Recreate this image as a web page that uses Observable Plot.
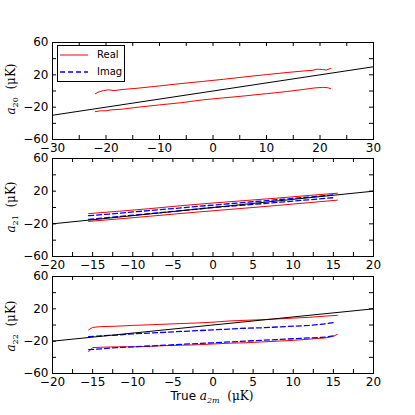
<!DOCTYPE html>
<html>
<head>
<meta charset="utf-8">
<script src="https://cdn.jsdelivr.net/npm/d3@7"></script>
<script src="https://cdn.jsdelivr.net/npm/@observablehq/plot@0.6"></script>
<style>
  body { margin: 0; background: #fff; }
  #chart { position: relative; width: 415px; height: 415px; font-family: "DejaVu Sans", sans-serif; color: #000; overflow: hidden; background: #fff; }
  #chart svg.plot { position: absolute; left: 0; }
  .ylab { position: absolute; white-space: nowrap; font-size: 12px; transform: translate(-50%, -50%) rotate(-90deg); line-height: 1; }
  .xlab { position: absolute; white-space: nowrap; font-size: 12px; transform: translate(-50%, -50%); line-height: 1; }
  .m { font-family: "DejaVu Serif", serif; font-style: italic; }
  .sub { font-family: "DejaVu Serif", serif; font-size: 8px; vertical-align: -3px; }
  .u { font-family: "DejaVu Serif", serif; }
  .legbox { position: absolute; border: 1px solid #000; background: #fff; box-sizing: border-box; }
  .legtxt { position: absolute; font-size: 10px; line-height: 1; transform: translateY(-50%); }
  .legsw { position: absolute; }
</style>
</head>
<body>
<div id="chart"></div>
<script>
// ---- ticks ----
const yTicks = [-60, -40, -20, 0, 20, 40, 60];
const yTickLabels = [-60, -20, 20, 60];
const x1Ticks = [-30, -25, -20, -15, -10, -5, 0, 5, 10, 15, 20, 25, 30];
const x1TickLabels = [-30, -20, -10, 0, 10, 20, 30];
const x23Ticks = [-20, -17.5, -15, -12.5, -10, -7.5, -5, -2.5, 0, 2.5, 5, 7.5, 10, 12.5, 15, 17.5, 20];
const x23TickLabels = [-20, -15, -10, -5, 0, 5, 10, 15, 20];

// ---- truth (y = x) lines ----
const truth1X = [-30, 30];
const truth1Y = [-30, 30];
const truth23X = [-20, 20];
const truth23Y = [-20, 20];

// ---- panel 1: a20 (real only) ----
const a20RealUpX = [-22, -21.5, -20.5, -19.5, -18.5, -17, -14, -10, -6, -2, 2, 6, 10, 14, 17, 18.5, 19.5, 20.5, 21.2, 22];
const a20RealUpY = [-3.5, -1.5, 0.5, 1.5, 0.5, 1.8, 3.5, 6.3, 9.2, 11.8, 14.5, 17.5, 20.3, 23, 24.8, 25.5, 27, 26.5, 26, 28];
const a20RealLoX = [-22, -21, -20, -19, -17, -14, -10, -6, -2, 2, 6, 10, 14, 17, 19, 20.5, 21.5, 22];
const a20RealLoY = [-25.5, -24.5, -24.5, -23.3, -22.5, -20, -17.2, -14.5, -11, -8.5, -6, -3.3, -0.5, 2, 3.8, 4.5, 4, 2.8];

// ---- panel 2: a21 ----
const a21RealUpX = [-15.5, -12, -8, -4, 0, 4, 8, 12, 15.5];
const a21RealUpY = [-7.5, -4.8, -1.5, 2.2, 5.5, 8.5, 11.5, 14.8, 17.5];
const a21RealLoX = [-15.5, -12, -8, -4, 0, 4, 8, 12, 15.5];
const a21RealLoY = [-17, -14.2, -10.8, -7.3, -4, -0.8, 2.5, 6, 9];
const a21ImagUpX = [-15.5, -12, -8, -4, 0, 4, 8, 12, 15];
const a21ImagUpY = [-10, -7.3, -3.8, -0.5, 3, 6.2, 9.5, 12.8, 15.5];
const a21ImagLoX = [-15.5, -12, -8, -4, 0, 4, 8, 12, 15];
const a21ImagLoY = [-14.5, -11.2, -7.5, -3.8, 0, 3, 6.2, 9.5, 12];

// ---- panel 3: a22 ----
const a22RealUpX = [-15.5, -15, -14, -12, -10, -8, -6, -4, -2, 0, 2, 4, 6, 8, 10, 12, 14, 15.5];
const a22RealUpY = [-6, -3, -2, -1.5, -0.5, 0.2, 1, 1.8, 2.5, 3.5, 5, 5.8, 6.5, 7.5, 8.5, 9.5, 11, 12];
const a22RealLoX = [-15.5, -15.2, -15, -14, -12, -10, -8, -6, -4, -2, 0, 2, 4, 6, 8, 10, 12, 14, 15, 15.5];
const a22RealLoY = [-33, -30, -28, -27.5, -27, -27, -26.5, -25.5, -25, -24.5, -23.5, -22.5, -22, -21, -20, -19, -17.5, -16, -14, -11.5];
const a22ImagUpX = [-15.5, -14, -12, -10, -8, -6, -4, -2, 0, 2, 4, 6, 8, 10, 12, 14, 15];
const a22ImagUpY = [-14.5, -13.5, -12.5, -11, -10, -9, -8, -7, -6, -5, -4, -3.5, -2.5, -1.5, -0.5, 1.5, 3];
const a22ImagLoX = [-15.5, -14, -12, -10, -8, -6, -4, -2, 0, 2, 4, 6, 8, 10, 12, 14, 15];
const a22ImagLoY = [-30.5, -29.5, -28, -27, -26, -25, -24, -23, -22, -21, -20, -19, -18, -17, -16, -15, -13.5];

const zip = (xs, ys) => xs.map((x, i) => ({x, y: ys[i]}));

const W = 415, ML = 52, MR = 42, MT = 10, MB = 24;
const PW = W - ML - MR;
const TICK = 4;

function panel({top, ph, xDomain, xTicks, xLabels, reals, imags, truth}) {
  const marks = [];
  for (const r of reals) marks.push(Plot.line(r, {x: "x", y: "y", stroke: "#ff0000", strokeWidth: 1}));
  for (const im of imags) marks.push(Plot.line(im, {x: "x", y: "y", stroke: "#0000ff", strokeWidth: 1.3, strokeDasharray: "5,3"}));
  marks.push(Plot.line(truth, {x: "x", y: "y", stroke: "#000", strokeWidth: 1}));
  marks.push(Plot.frame({stroke: "#000", strokeWidth: 1}));
  marks.push(Plot.tickX(xTicks, {x: d => d, insetTop: ph - TICK, stroke: "#000"}));
  marks.push(Plot.tickX(xTicks, {x: d => d, insetBottom: ph - TICK, stroke: "#000"}));
  marks.push(Plot.tickY(yTicks, {y: d => d, insetRight: PW - TICK, stroke: "#000"}));
  marks.push(Plot.tickY(yTicks, {y: d => d, insetLeft: PW - TICK, stroke: "#000"}));
  marks.push(Plot.axisX({ticks: xLabels, tickSize: 0, tickPadding: 4, label: null, anchor: "bottom", tickFormat: d3.format("d")}));
  marks.push(Plot.axisY({ticks: yTickLabels, tickSize: 0, tickPadding: 4, label: null, anchor: "left", tickFormat: d3.format("d")}));
  const svg = Plot.plot({
    width: W, height: MT + ph + MB,
    marginLeft: ML, marginRight: MR, marginTop: MT, marginBottom: MB,
    style: {background: "transparent", overflow: "visible", fontFamily: "'DejaVu Sans', sans-serif", fontSize: "12px", color: "#000"},
    x: {domain: xDomain},
    y: {domain: [-60, 60]},
    marks
  });
  svg.classList.add("plot");
  svg.style.top = (top - MT) + "px";
  return svg;
}

const chart = document.getElementById("chart");

chart.appendChild(panel({
  top: 42, ph: 97, xDomain: [-30, 30], xTicks: x1Ticks, xLabels: x1TickLabels,
  reals: [zip(a20RealUpX, a20RealUpY), zip(a20RealLoX, a20RealLoY)],
  imags: [],
  truth: zip(truth1X, truth1Y)
}));
chart.appendChild(panel({
  top: 158, ph: 98, xDomain: [-20, 20], xTicks: x23Ticks, xLabels: x23TickLabels,
  reals: [zip(a21RealUpX, a21RealUpY), zip(a21RealLoX, a21RealLoY)],
  imags: [zip(a21ImagUpX, a21ImagUpY), zip(a21ImagLoX, a21ImagLoY)],
  truth: zip(truth23X, truth23Y)
}));
chart.appendChild(panel({
  top: 276, ph: 97, xDomain: [-20, 20], xTicks: x23Ticks, xLabels: x23TickLabels,
  reals: [zip(a22RealUpX, a22RealUpY), zip(a22RealLoX, a22RealLoY)],
  imags: [zip(a22ImagUpX, a22ImagUpY), zip(a22ImagLoX, a22ImagLoY)],
  truth: zip(truth23X, truth23Y)
}));

// y labels
const yLabels = [
  {sub: "20", cy: 89},
  {sub: "21", cy: 207},
  {sub: "22", cy: 326}
];
for (const l of yLabels) {
  const d = document.createElement("div");
  d.className = "ylab";
  d.style.left = "12px";
  d.style.top = l.cy + "px";
  d.innerHTML = `<span class="m">a</span><span class="sub">${l.sub}</span>&nbsp;&nbsp;<span class="u">(μK)</span>`;
  chart.appendChild(d);
}
// x label
const xl = document.createElement("div");
xl.className = "xlab";
xl.style.left = "212px";
xl.style.top = "397px";
xl.innerHTML = `True <span class="m">a</span><span class="sub m">2m</span>&nbsp;&nbsp;<span class="u">(μK)</span>`;
chart.appendChild(xl);

// legend
const legendItems = ["Real", "Imag"];
const box = document.createElement("div");
box.className = "legbox";
Object.assign(box.style, {left: "57px", top: "45px", width: "68px", height: "37px"});
chart.appendChild(box);
const sw = document.createElementNS("http://www.w3.org/2000/svg", "svg");
sw.setAttribute("width", "30"); sw.setAttribute("height", "30");
sw.classList.add("legsw");
Object.assign(sw.style, {left: "59px", top: "48px", position: "absolute"});
sw.innerHTML = `<line x1="1" x2="29" y1="7" y2="7" stroke="#ff0000" stroke-width="1"/>
<line x1="1" x2="29" y1="24" y2="24" stroke="#0000ff" stroke-width="1.3" stroke-dasharray="5,3"/>`;
chart.appendChild(sw);
legendItems.forEach((t, i) => {
  const d = document.createElement("div");
  d.className = "legtxt";
  d.style.left = "97px";
  d.style.top = (i === 0 ? 55 : 72) + "px";
  d.textContent = t;
  chart.appendChild(d);
});
</script>
</body>
</html>
